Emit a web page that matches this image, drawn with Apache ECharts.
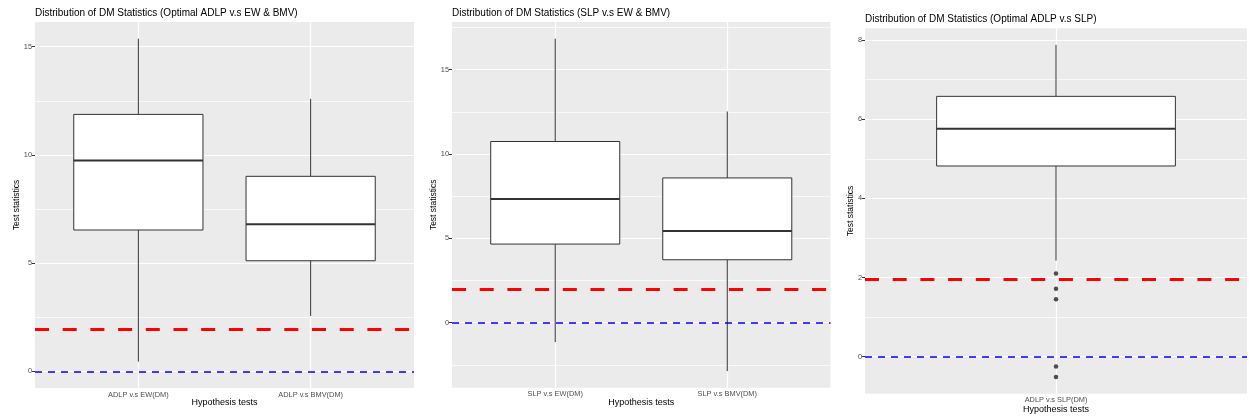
<!DOCTYPE html>
<html><head><meta charset="utf-8">
<script src="https://cdn.jsdelivr.net/npm/echarts@6/dist/echarts.min.js"></script>
<style>html,body{margin:0;padding:0;background:#fff}#c{width:1249px;height:417px}</style>
</head><body><div id="c"></div>
<script>
// ---------------- data ----------------
const panelTitles = [
  'Distribution of DM Statistics (Optimal ADLP v.s EW & BMV)',
  'Distribution of DM Statistics (SLP v.s EW & BMV)',
  'Distribution of DM Statistics (Optimal ADLP v.s SLP)'
];
const yAxisTitle = 'Test statistics';
const xAxisTitle = 'Hypothesis tests';

const p1Categories = ['ADLP v.s EW(DM)', 'ADLP v.s BMV(DM)'];
// [lower whisker, Q1, median, Q3, upper whisker]
const p1Boxes = [
  [0.45, 6.53, 9.74, 11.87, 15.37],
  [2.56, 5.11, 6.80, 9.01, 12.59]
];
const p1Outliers = [];
const p1YTicks = [0, 5, 10, 15];
const p1YMinor = [2.5, 7.5, 12.5];

const p2Categories = ['SLP v.s EW(DM)', 'SLP v.s BMV(DM)'];
const p2Boxes = [
  [-1.15, 4.66, 7.33, 10.74, 16.84],
  [-2.87, 3.73, 5.43, 8.58, 12.52]
];
const p2Outliers = [];
const p2YTicks = [0, 5, 10, 15];
const p2YMinor = [-2.5, 2.5, 7.5, 12.5, 17.5];

const p3Categories = ['ADLP v.s SLP(DM)'];
const p3Boxes = [
  [2.43, 4.82, 5.76, 6.58, 7.88]
];
const p3Outliers = [2.10, 1.72, 1.45, -0.245, -0.515];
const p3YTicks = [0, 2, 4, 6, 8];
const p3YMinor = [1, 3, 5, 7];

const criticalValue = 1.96;
const zeroValue = 0;

// ---------------- layout ----------------
const FONT = '"Liberation Sans", Arial, Helvetica, sans-serif';
const layouts = [
  {grid: {left: 35, top: 22, width: 379, height: 366}, title: {left: 35, top: 8}, yNameGap: 14, xNameGap: 10},
  {grid: {left: 452, top: 22, width: 378.5, height: 365.7}, title: {left: 452, top: 8}, yNameGap: 14, xNameGap: 10},
  {grid: {left: 865, top: 28.3, width: 382, height: 365.4}, title: {left: 865, top: 14}, yNameGap: 10, xNameGap: 11}
];

const panels = [
  {cats: p1Categories, boxes: p1Boxes, outliers: p1Outliers, yTicks: p1YTicks, yMinor: p1YMinor},
  {cats: p2Categories, boxes: p2Boxes, outliers: p2Outliers, yTicks: p2YTicks, yMinor: p2YMinor},
  {cats: p3Categories, boxes: p3Boxes, outliers: p3Outliers, yTicks: p3YTicks, yMinor: p3YMinor}
];

function yRange(p) {
  const vals = [].concat(...p.boxes, p.outliers, [criticalValue, zeroValue]);
  const lo = Math.min(...vals), hi = Math.max(...vals);
  const pad = 0.05 * (hi - lo);
  return [lo - pad, hi + pad];
}

function renderBox(params, api) {
  const x = api.value(0);
  const pMin = api.coord([x, api.value(1)]);
  const pQ1 = api.coord([x, api.value(2)]);
  const pMed = api.coord([x, api.value(3)]);
  const pQ3 = api.coord([x, api.value(4)]);
  const pMax = api.coord([x, api.value(5)]);
  const half = api.size([0.75, 0])[0] / 2;
  const st = {stroke: '#333333', lineWidth: 1, fill: null};
  return {
    type: 'group',
    children: [
      {type: 'line', shape: {x1: pMax[0], y1: pMax[1], x2: pQ3[0], y2: pQ3[1]}, style: st},
      {type: 'line', shape: {x1: pQ1[0], y1: pQ1[1], x2: pMin[0], y2: pMin[1]}, style: st},
      {type: 'rect', shape: {x: pQ3[0] - half, y: pQ3[1], width: 2 * half, height: pQ1[1] - pQ3[1]},
        style: {fill: '#ffffff', stroke: '#333333', lineWidth: 1}},
      {type: 'line', shape: {x1: pMed[0] - half, y1: pMed[1], x2: pMed[0] + half, y2: pMed[1]},
        style: {stroke: '#333333', lineWidth: 2}}
    ]
  };
}

const option = {
  animation: false,
  backgroundColor: '#ffffff',
  textStyle: {fontFamily: FONT},
  title: [], grid: [], xAxis: [], yAxis: [], series: []
};

panels.forEach((p, i) => {
  const L = layouts[i];
  const [lo, hi] = yRange(p);
  const xPos = p.cats.map((c, j) => j + 1);
  option.title.push({
    text: panelTitles[i], left: L.title.left, top: L.title.top, padding: 0,
    textStyle: {fontSize: 10, fontWeight: 'normal', color: '#000', fontFamily: FONT}
  });
  option.grid.push(Object.assign({containLabel: false, outerBoundsMode: 'none', backgroundColor: '#EBEBEB', show: true, borderWidth: 0}, L.grid));
  option.xAxis.push({
    gridIndex: i, type: 'value', min: 0.4, max: p.cats.length + 0.6,
    axisLine: {show: false}, splitLine: {show: false},
    axisTick: {show: true, customValues: xPos, length: 3, lineStyle: {color: '#333333', width: 1}},
    axisLabel: {customValues: xPos, formatter: v => p.cats[Math.round(v) - 1] || '',
      fontSize: 7.4, color: '#4D4D4D', margin: 3, fontFamily: FONT},
    name: xAxisTitle, nameLocation: 'middle', nameGap: L.xNameGap, nameMoveOverlap: false,
    nameTextStyle: {fontSize: 9, color: '#000', fontFamily: FONT}
  });
  option.yAxis.push({
    gridIndex: i, type: 'value', min: lo, max: hi,
    axisLine: {show: false}, splitLine: {show: false},
    axisTick: {show: true, customValues: p.yTicks, length: 3, lineStyle: {color: '#333333', width: 1}},
    axisLabel: {customValues: p.yTicks, fontSize: 7.4, color: '#4D4D4D', margin: 3, fontFamily: FONT},
    name: yAxisTitle, nameLocation: 'middle', nameGap: L.yNameGap, nameMoveOverlap: false,
    nameTextStyle: {fontSize: 8.5, color: '#000', fontFamily: FONT}
  });
  // gridlines
  const gl = [];
  p.yMinor.forEach(v => gl.push({yAxis: v, lineStyle: {color: '#ffffff', width: 0.7, type: 'solid'}}));
  p.yTicks.forEach(v => gl.push({yAxis: v, lineStyle: {color: '#ffffff', width: 1.2, type: 'solid'}}));
  xPos.forEach(v => gl.push({xAxis: v, lineStyle: {color: '#ffffff', width: 1.2, type: 'solid'}}));
  option.series.push({
    type: 'scatter', xAxisIndex: i, yAxisIndex: i, data: [], z: 1, silent: true,
    markLine: {z: 1, silent: true, symbol: ['none', 'none'], label: {show: false}, animation: false, data: gl}
  });
  option.series.push({
    type: 'custom', xAxisIndex: i, yAxisIndex: i, z: 3, silent: true,
    renderItem: renderBox, encode: {x: 0, y: [1, 2, 3, 4, 5]},
    data: p.boxes.map((b, j) => [j + 1].concat(b))
  });
  option.series.push({
    type: 'scatter', xAxisIndex: i, yAxisIndex: i, data: [], z: 6, silent: true,
    markLine: {z: 6, silent: true, symbol: ['none', 'none'], label: {show: false}, animation: false,
      data: [
        {yAxis: criticalValue, lineStyle: {color: '#FF0000', width: 3.2, type: [14, 13.7]}},
        {yAxis: zeroValue, lineStyle: {color: '#0000FF', width: 1.7, type: [7, 6]}}
      ]}
  });
  if (p.outliers.length) {
    option.series.push({
      type: 'scatter', xAxisIndex: i, yAxisIndex: i, z: 8, silent: true,
      symbol: 'circle', symbolSize: 4.5, itemStyle: {color: '#222222'},
      data: p.outliers.map(v => [1, v])
    });
  }
});

const chart = echarts.init(document.getElementById('c'), null, {renderer: 'canvas'});
chart.setOption(option);
</script>
</body></html>
